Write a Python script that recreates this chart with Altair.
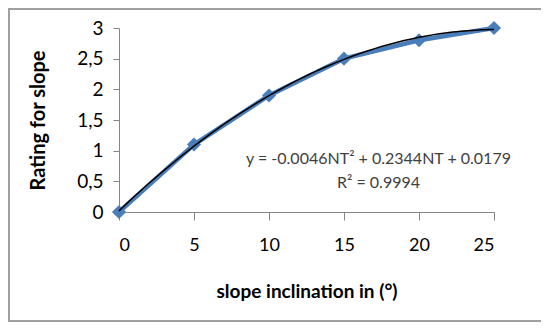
import altair as alt
import pandas as pd

# data
inclination = [0, 5, 10, 15, 20, 25]
rating = [0.0, 1.1, 1.9, 2.5, 2.8, 3.0]

eq_lines = ["y = -0.0046NT\u00b2  + 0.2344NT  + 0.0179", "R\u00b2 = 0.9994"]
eq_x = [17.3, 17.3]
eq_y = [0.87, 0.47]
y_ticks = [0.0, 0.5, 1.0, 1.5, 2.0, 2.5, 3.0]
x_ticks = [0, 5, 10, 15, 20, 25]

df = pd.DataFrame({"x": inclination, "y": rating})
ann = pd.DataFrame({"t": eq_lines, "x": eq_x, "y": eq_y})

FONT = "Lato"
BLUE = "#4A7EBB"
AXIS = "#868686"

xs = alt.Scale(domain=[0, 25], nice=False, zero=True)
ys = alt.Scale(domain=[0, 3], nice=False)

xaxis = alt.Axis(
    values=x_ticks, title="slope inclination in (\u00b0)",
    grid=False, domainColor=AXIS, tickColor=AXIS, tickSize=8,
    labelFont=FONT, labelFontSize=18, labelColor="#000000", labelPadding=16,
    titleFont=FONT, titleFontSize=19, titleFontWeight="bold", titleColor="#000000",
    titlePadding=28)
yaxis = alt.Axis(
    values=y_ticks, format="~g", title="Rating for slope", labelOverlap=False,
    grid=False, domainColor=AXIS, tickColor=AXIS, tickSize=6,
    labelFont=FONT, labelFontSize=19, labelColor="#000000", labelPadding=10,
    titleFont=FONT, titleFontSize=20, titleFontWeight="bold", titleColor="#000000",
    titlePadding=28)

xenc = alt.X("x:Q", scale=xs, axis=xaxis)
yenc = alt.Y("y:Q", scale=ys, axis=yaxis)

frame = alt.Chart(df).mark_rect(fill="transparent", stroke="#A0A0A0", strokeWidth=2).encode(
    x=alt.value(-110), x2=alt.value(440), y=alt.value(-19), y2=alt.value(293))

base = alt.Chart(df).encode(x=xenc, y=yenc)
line = base.mark_line(color=BLUE, strokeWidth=4.5)
pts = base.mark_point(shape="diamond", filled=True, color=BLUE, size=200, opacity=1)
trend = base.transform_regression("x", "y", method="poly", order=2, extent=[0, 25]).mark_line(
    color="#000000", strokeWidth=1.5)
text = alt.Chart(ann).mark_text(font=FONT, fontSize=16, color="#404040", align="center").encode(
    x=xenc, y=yenc, text="t:N")

chart = alt.layer(frame, line, pts, trend, text).properties(
    width=375, height=184,
    autosize=alt.AutoSizeParams(type="none"),
    padding={"left": 111, "top": 20, "right": 47, "bottom": 110},
).configure(
    background="white",
    view=alt.ViewConfig(stroke=None, strokeWidth=0),
    locale={"number": {"decimal": ",", "thousands": ".", "grouping": [3], "currency": ["", " \u20ac"]}},
)

chart.save("out.html", embed_options={"renderer": "svg", "actions": False})
